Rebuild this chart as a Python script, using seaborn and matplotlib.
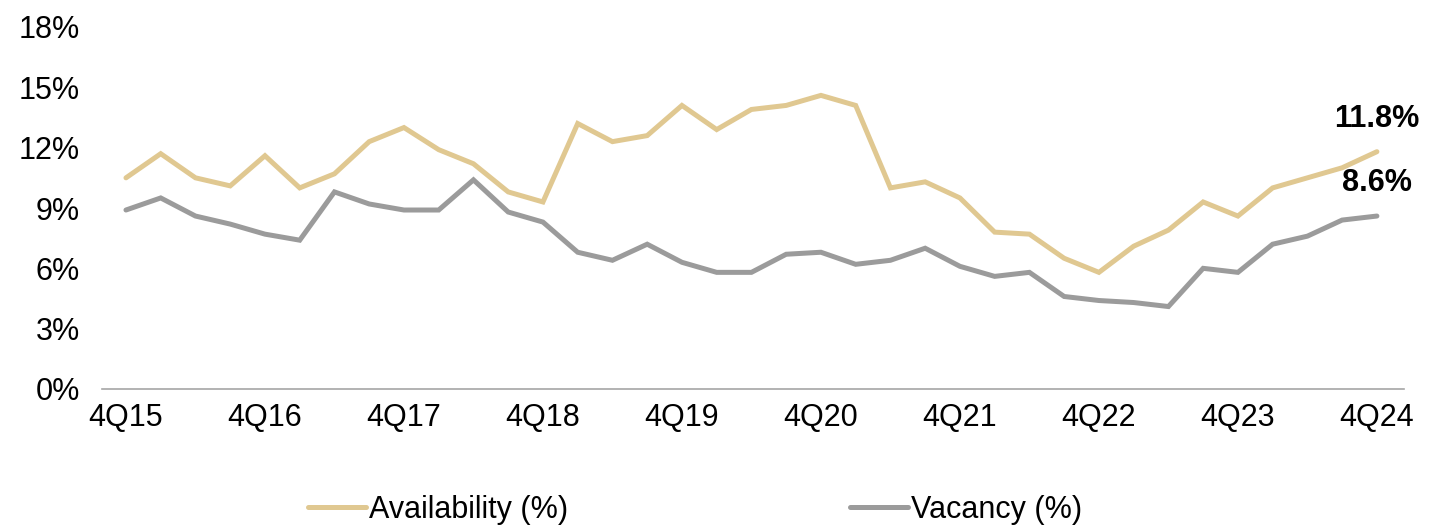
import numpy as np
import pandas as pd
import matplotlib
matplotlib.use("Agg")
import matplotlib.pyplot as plt
import seaborn as sns

# Quarterly series, 4Q15 through 4Q24
quarters = [f"{q}Q{y}" for y in range(15, 25) for q in (1, 2, 3, 4)][3:]
availability = [10.5, 11.7, 10.5, 10.1, 11.6, 10.0, 10.7, 12.3, 13.0, 11.9,
                11.2, 9.8, 9.3, 13.2, 12.3, 12.6, 14.1, 12.9, 13.9, 14.1,
                14.6, 14.1, 10.0, 10.3, 9.5, 7.8, 7.7, 6.5, 5.8, 7.1,
                7.9, 9.3, 8.6, 10.0, 10.5, 11.0, 11.8]
vacancy = [8.9, 9.5, 8.6, 8.2, 7.7, 7.4, 9.8, 9.2, 8.9, 8.9,
           10.4, 8.8, 8.3, 6.8, 6.4, 7.2, 6.3, 5.8, 5.8, 6.7,
           6.8, 6.2, 6.4, 7.0, 6.1, 5.6, 5.8, 4.6, 4.4, 4.3,
           4.1, 6.0, 5.8, 7.2, 7.6, 8.4, 8.6]
series_names = ["Availability (%)", "Vacancy (%)"]
series_colors = ["#E0C891", "#9B9B9B"]
y_ticks = [0, 3, 6, 9, 12, 15, 18]

df = pd.DataFrame({
    "idx": list(range(len(quarters))) * 2,
    "value": availability + vacancy,
    "series": [series_names[0]] * len(quarters) + [series_names[1]] * len(quarters),
})

sns.set_theme(style="white")
plt.rcParams["font.family"] = ["Liberation Sans", "DejaVu Sans"]
plt.rcParams["text.color"] = "black"

fig = plt.figure(figsize=(14.30, 5.29), dpi=100)
ax = fig.add_axes([102 / 1430, 1 - 389 / 529, (1404 - 102) / 1430, (389 - 27) / 529])

sns.lineplot(data=df, x="idx", y="value", hue="series",
             palette=dict(zip(series_names, series_colors)),
             linewidth=3.6, ax=ax, legend=False)
for ln in ax.get_lines():
    ln.set_solid_capstyle("round")
    ln.set_solid_joinstyle("miter")

ax.set_xlim(-0.69, 36.78)
ax.set_ylim(0, 18)
ax.set_yticks(y_ticks)
ax.set_yticklabels([f"{v}%" for v in y_ticks])
tick_idx = list(range(0, len(quarters), 4))
ax.set_xticks(tick_idx)
ax.set_xticklabels([quarters[i] for i in tick_idx])
ax.tick_params(axis="both", length=0, labelsize=22, colors="black")
ax.tick_params(axis="y", pad=16)
ax.tick_params(axis="x", pad=10)
ax.set_xlabel("")
ax.set_ylabel("")
for side in ("top", "right", "left"):
    ax.spines[side].set_visible(False)
ax.spines["bottom"].set_color("#A6A6A6")
ax.spines["bottom"].set_linewidth(1.2)
ax.grid(False)

# End-point value labels
last = len(quarters) - 1
for vals in (availability, vacancy):
    ax.annotate(f"{vals[last]:.1f}%", xy=(last, vals[last]), xytext=(0, 18),
                textcoords="offset points", ha="center", va="baseline",
                fontsize=22, fontweight="bold", color="black")

handles = ax.get_lines()[:2]
leg = fig.legend(handles, series_names, loc="center", bbox_to_anchor=(695 / 1430, 1 - 510 / 529),
                 ncol=2, frameon=False, fontsize=22, handlelength=1.9, handletextpad=0.1,
                 columnspacing=9.2)
for t in leg.get_texts():
    t.set_color("black")

fig.savefig("out.png", dpi=100)
